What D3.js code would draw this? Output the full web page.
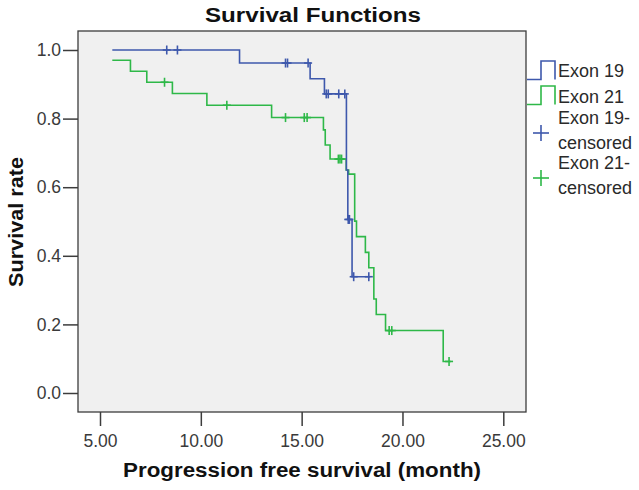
<!DOCTYPE html>
<html><head><meta charset="utf-8">
<script src="https://cdn.jsdelivr.net/npm/d3@7"></script>
<style>body{margin:0;background:#fff}svg{display:block}</style>
</head><body>
<svg id="c" width="639" height="490"></svg>
<script>
// ---- data ----
const xTicks = [5, 10, 15, 20, 25];
const yTicks = [0, 0.2, 0.4, 0.6, 0.8, 1.0];
const seriesNames = ["Exon 19", "Exon 21"];
const legendLabels = [["Exon 19"], ["Exon 21"], ["Exon 19-", "censored"], ["Exon 21-", "censored"]];
// step curves: [time, survival]
const exon19Steps = [[5.61,1.0],[11.92,0.962],[15.42,0.916],[16.13,0.872],[17.22,0.650],[17.29,0.506],[17.50,0.339]];
const exon19End = 18.40;
const exon19Censored = [[8.31,1.0],[8.84,1.0],[14.20,0.962],[14.30,0.962],[15.32,0.962],[16.22,0.872],[16.32,0.872],[16.84,0.872],[17.14,0.872],[17.31,0.506],[17.37,0.506],[17.58,0.339],[18.33,0.339]];
const exon21Steps = [[5.61,0.970],[6.51,0.938],[7.32,0.906],[8.59,0.873],[10.30,0.839],[13.51,0.803],[16.08,0.767],[16.17,0.723],[16.41,0.682],[17.21,0.650],[17.33,0.638],[17.63,0.501],[17.72,0.456],[18.16,0.410],[18.33,0.365],[18.58,0.274],[18.70,0.229],[19.16,0.182],[22.02,0.092]];
const exon21End = 22.40;
const exon21Censored = [[8.20,0.906],[11.29,0.839],[14.20,0.803],[15.13,0.803],[15.27,0.803],[16.82,0.682],[16.90,0.682],[16.98,0.682],[19.34,0.182],[19.47,0.182],[22.31,0.092]];

// ---- layout ----
const colors = ["#3e58ac", "#2eb848"];
const font = "'Liberation Sans', Arial, sans-serif";
const plot = {left: 78, right: 526, top: 31, bottom: 412};
const x = d3.scaleLinear().domain([5, 25]).range([100, 503.3]);
const y = d3.scaleLinear().domain([0, 1]).range([393, 50]);

const svg = d3.select("#c");
svg.append("rect").attr("x", plot.left).attr("y", plot.top)
  .attr("width", plot.right - plot.left).attr("height", plot.bottom - plot.top)
  .attr("fill", "#f0f0f0").attr("stroke", "#3c3c3c").attr("stroke-width", 1.3);

// axes
const gx = svg.append("g").attr("transform", `translate(0,${plot.bottom})`)
  .call(d3.axisBottom(x).tickValues(xTicks).tickSize(14).tickPadding(9).tickFormat(d3.format(".2f")));
const gy = svg.append("g").attr("transform", `translate(${plot.left},0)`)
  .call(d3.axisLeft(y).tickValues(yTicks).tickSize(15).tickPadding(2).tickFormat(d3.format(".1f")));
[gx, gy].forEach(g => {
  g.select(".domain").remove();
  g.selectAll("line").attr("stroke", "#3c3c3c").attr("stroke-width", 1.5);
  g.selectAll("text").attr("fill", "#3a3a3a").style("font-family", font).style("font-size", "17.5px");
});

// curves
function stepPath(steps, end) {
  const pts = steps.slice();
  pts.push([end, steps[steps.length - 1][1]]);
  return d3.line().x(d => x(d[0])).y(d => y(d[1])).curve(d3.curveStepAfter)(pts);
}
const series = [
  {steps: exon19Steps, end: exon19End, cens: exon19Censored},
  {steps: exon21Steps, end: exon21End, cens: exon21Censored}
];
[1, 0].forEach(i => {
  const s = series[i];
  svg.append("path").attr("d", stepPath(s.steps, s.end))
    .attr("fill", "none").attr("stroke", colors[i]).attr("stroke-width", 1.6);
});
[1, 0].forEach(i => {
  const s = series[i];
  const g = svg.append("g").attr("stroke", colors[i]).attr("stroke-width", 1.6);
  s.cens.forEach(d => {
    const cx = x(d[0]), cy = y(d[1]);
    g.append("line").attr("x1", cx).attr("x2", cx).attr("y1", cy - 4.5).attr("y2", cy + 4.5);
    g.append("line").attr("x1", cx - 4).attr("x2", cx + 4).attr("y1", cy).attr("y2", cy);
  });
});

// titles
function boldText(sel, size, len) {
  return sel.style("font-family", font).style("font-size", size + "px").style("font-weight", "bold")
    .attr("fill", "#111").attr("textLength", len).attr("lengthAdjust", "spacingAndGlyphs");
}
boldText(svg.append("text").attr("x", 313).attr("y", 21.5).attr("text-anchor", "middle"), 20, 216)
  .text("Survival Functions");
boldText(svg.append("text").attr("x", 302).attr("y", 476.5).attr("text-anchor", "middle"), 20, 358)
  .text("Progression free survival (month)");
boldText(svg.append("text").attr("transform", "translate(23,222) rotate(-90)").attr("text-anchor", "middle"), 21, 130)
  .text("Survival rate");

// legend
const lg = svg.append("g");
const iconTops = [61, 86];
[0, 1].forEach(i => {
  const t = iconTops[i], b = t + 18.5;
  lg.append("path").attr("d", `M527,${b}H541V${t}H555V${b}`)
    .attr("fill", "none").attr("stroke", colors[i]).attr("stroke-width", 1.6);
});
[0, 1].forEach(i => {
  const cy = 133 + i * 45;
  lg.append("line").attr("x1", 541).attr("x2", 541).attr("y1", cy - 8).attr("y2", cy + 8)
    .attr("stroke", colors[i]).attr("stroke-width", 1.6);
  lg.append("line").attr("x1", 533).attr("x2", 549).attr("y1", cy).attr("y2", cy)
    .attr("stroke", colors[i]).attr("stroke-width", 1.6);
});
const baselines = [[77], [103], [124, 149], [169, 194]];
legendLabels.forEach((lines, i) => {
  lines.forEach((ln, j) => {
    lg.append("text").attr("x", 558).attr("y", baselines[i][j])
      .style("font-family", font).style("font-size", "18px").attr("fill", "#2a2a2a").text(ln);
  });
});
</script>
</body></html>
